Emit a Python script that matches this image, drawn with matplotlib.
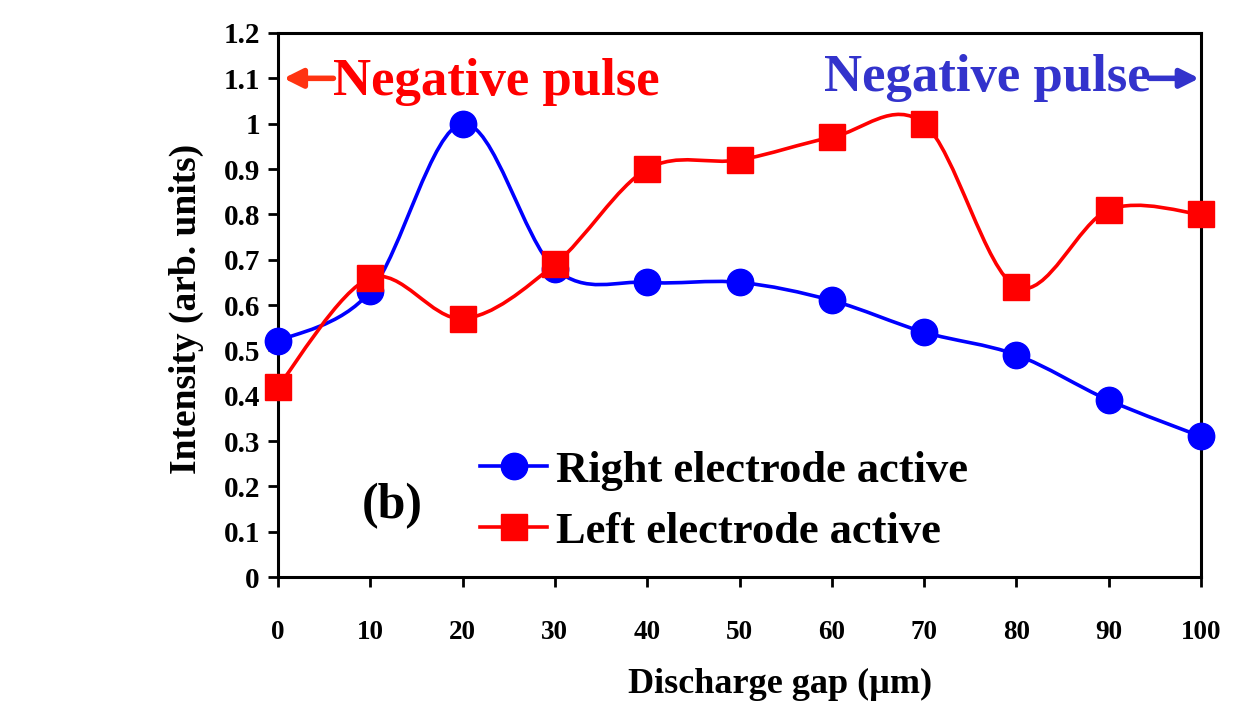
import numpy as np
import matplotlib
matplotlib.use("Agg")
import matplotlib.pyplot as plt
from matplotlib.path import Path
from matplotlib.patches import PathPatch
from matplotlib.lines import Line2D

# data
gap = [0, 10, 20, 30, 40, 50, 60, 70, 80, 90, 100]
right_active = [0.52, 0.63, 1.00, 0.68, 0.65, 0.65, 0.61, 0.54, 0.49, 0.39, 0.31]
left_active = [0.42, 0.66, 0.57, 0.69, 0.90, 0.92, 0.97, 1.00, 0.64, 0.81, 0.80]
yticks = [0, 0.1, 0.2, 0.3, 0.4, 0.5, 0.6, 0.7, 0.8, 0.9, 1, 1.1, 1.2]
ytick_labels = ["0", "0.1", "0.2", "0.3", "0.4", "0.5", "0.6", "0.7", "0.8", "0.9", "1", "1.1", "1.2"]

plt.rcParams['font.family'] = ['Liberation Serif', 'DejaVu Serif']
plt.rcParams['font.weight'] = 'bold'


def smooth_path(x, y):
    # excel-style smoothed line: cubic bezier segments through the points
    p = np.column_stack([x, y]).astype(float)
    n = len(p)
    verts = [p[0]]
    codes = [Path.MOVETO]
    for i in range(n - 1):
        p0 = p[max(i - 1, 0)]
        p1 = p[i]
        p2 = p[i + 1]
        p3 = p[min(i + 2, n - 1)]
        c1 = p1 + (p2 - p0) / 6.0
        c2 = p2 - (p3 - p1) / 6.0
        verts += [c1, c2, p2]
        codes += [Path.CURVE4] * 3
    return Path(verts, codes)


fig = plt.figure(figsize=(12.49, 7.02), dpi=100)
ax = fig.add_axes([0.2226, 0.178, 0.7390, 0.775])

lw = 2.6
for yv, col in [(right_active, '#0000ff'), (left_active, '#ff0000')]:
    ax.add_patch(PathPatch(smooth_path(gap, yv), facecolor='none', edgecolor=col,
                           lw=lw, transform=ax.transData, clip_on=False, zorder=2))

ax.plot(gap, right_active, 'o', color='#0000ff', ms=19, clip_on=False, zorder=3)
ax.plot(gap, left_active, 's', color='#ff0000', ms=18.5, clip_on=False, zorder=3)

ax.set_xlim(0, 100)
ax.set_ylim(0, 1.2)
ax.set_xticks(gap)
ax.set_yticks(yticks)
ax.set_yticklabels(ytick_labels)

for s in ax.spines.values():
    s.set_linewidth(2.2)
ax.tick_params(axis='x', direction='out', length=7, width=2, pad=24, labelsize=19.5)
ax.tick_params(axis='y', direction='out', length=7, width=2, pad=6, labelsize=21)

ax.set_xlabel("Discharge gap (µm)", fontsize=26, fontweight='bold')
ax.xaxis.set_label_coords(0.544, -0.168)
ax.set_ylabel("Intensity (arb. units)", fontsize=27, fontweight='bold')
ax.yaxis.set_label_coords(-0.080, 0.492)

# pulse annotations
ax.text(6.0, 1.063, "Negative pulse", color='#ff0000', fontsize=38,
        fontweight='bold', ha='left', va='baseline')
ax.annotate('', xy=(0.6, 1.1), xytext=(6.0, 1.1),
            arrowprops=dict(arrowstyle='-|>', color='#ff3311', lw=4,
                            mutation_scale=28, shrinkA=0, shrinkB=0))
ax.text(94.5, 1.072, "Negative pulse", color='#3333cc', fontsize=38,
        fontweight='bold', ha='right', va='baseline')
ax.annotate('', xy=(99.8, 1.1), xytext=(94.4, 1.1),
            arrowprops=dict(arrowstyle='-|>', color='#3333cc', lw=4,
                            mutation_scale=28, shrinkA=0, shrinkB=0))

ax.text(12.35, 0.13, "(b)", fontsize=36, fontweight='bold', ha='center', va='baseline')

handles = [Line2D([], [], color='#0000ff', lw=lw, marker='o', ms=19),
           Line2D([], [], color='#ff0000', lw=lw, marker='s', ms=18.5)]
ax.legend(handles, ["Right electrode active", "Left electrode active"],
          loc='upper left', bbox_to_anchor=(0.219, 0.232), frameon=False,
          fontsize=32, handlelength=1.5, handletextpad=0.2,
          labelspacing=0.47, borderpad=0, borderaxespad=0)

fig.savefig("out.png", dpi=100)
